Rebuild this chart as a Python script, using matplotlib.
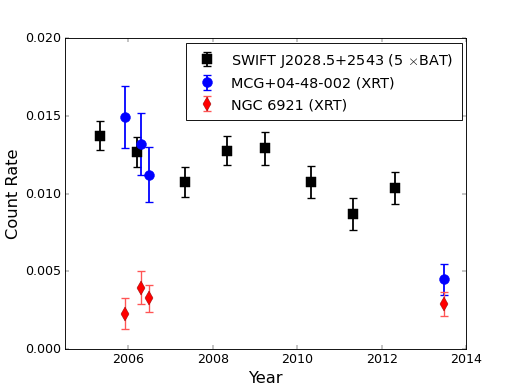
import matplotlib
matplotlib.use('Agg')
import matplotlib.pyplot as plt

# SWIFT BAT (x5)
bat_year = [2005.34, 2006.20, 2007.34, 2008.33, 2009.25, 2010.33, 2011.31, 2012.31]
bat_rate = [0.01374, 0.01266, 0.01073, 0.01277, 0.01292, 0.01077, 0.00869, 0.01037]
bat_err = [0.00091, 0.00097, 0.00097, 0.00095, 0.00104, 0.00103, 0.00103, 0.00100]

# MCG+04-48-002 XRT
mcg_year = [2005.92, 2006.30, 2006.50, 2013.48]
mcg_rate = [0.01492, 0.01321, 0.01121, 0.00450]
mcg_err = [0.00200, 0.00200, 0.00177, 0.00100]

# NGC 6921 XRT
ngc_year = [2005.92, 2006.30, 2006.50, 2013.48]
ngc_rate = [0.00228, 0.00396, 0.00327, 0.00288]
ngc_err = [0.00100, 0.00107, 0.00088, 0.00077]

plt.style.use('classic')
fig = plt.figure(figsize=(8, 6), dpi=64.75)
fig.patch.set_facecolor('white')
ax = fig.add_subplot(111)

ax.errorbar(bat_year, bat_rate, yerr=bat_err, fmt='s', color='black', mec='black',
            ecolor='black', ms=11, capsize=4, elinewidth=2, capthick=1.5,
            label='SWIFT J2028.5+2543 (5 $\\times$BAT)')
ax.errorbar(mcg_year, mcg_rate, yerr=mcg_err, fmt='o', color='blue', mec='blue',
            ecolor='blue', ms=11, capsize=4, elinewidth=2, capthick=1.5,
            label='MCG+04-48-002 (XRT)')
ax.errorbar(ngc_year, ngc_rate, yerr=ngc_err, fmt='d', color='red', mec='darkred',
            ecolor='#ff5555', ms=11, capsize=4, elinewidth=1.5, capthick=1.5,
            label='NGC 6921 (XRT)')

ax.set_xlim(2004.5, 2014)
ax.set_ylim(0, 0.020)
ax.set_xticks([2006, 2008, 2010, 2012, 2014])
ax.set_xticklabels(['2006', '2008', '2010', '2012', '2014'])
ax.set_yticks([0.0, 0.005, 0.010, 0.015, 0.020])
ax.set_yticklabels(['0.000', '0.005', '0.010', '0.015', '0.020'])
ax.tick_params(labelsize=14)
ax.set_xlabel('Year', fontsize=18)
ax.set_ylabel('Count Rate', fontsize=18)
ax.legend(loc='upper right', numpoints=1, fontsize=16, handletextpad=0.9,
          borderaxespad=0.3, borderpad=0.6, handlelength=1.6)

plt.savefig('out.png', dpi=64.75, facecolor='white')
